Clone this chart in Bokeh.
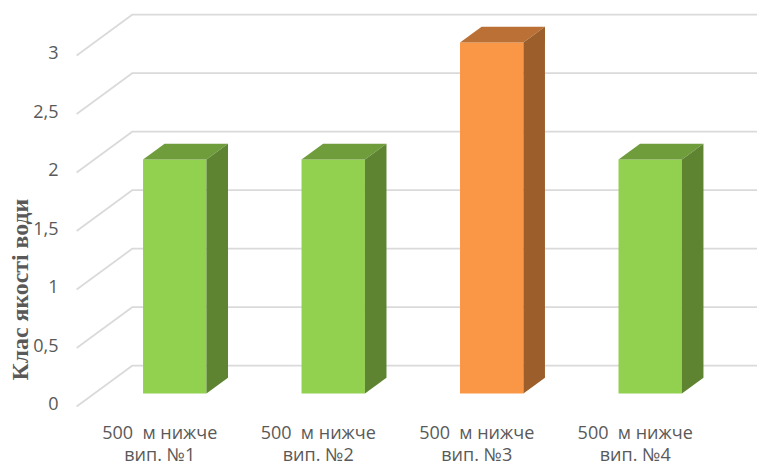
from bokeh.core.properties import value
from bokeh.embed import file_html
from bokeh.models import FixedTicker, LinearAxis, Range1d, Title
from bokeh.plotting import figure
from bokeh.resources import INLINE

line_one = ["500\u00a0\u00a0м нижче"] * 4
line_two = ["вип. №1", "вип. №2", "вип. №3", "вип. №4"]
quality = [2, 2, 3, 2]
y_ticks = [0, 0.5, 1, 1.5, 2, 2.5, 3]
y_tick_labels = ["0", "0,5", "1", "1,5", "2", "2,5", "3"]
y_title = "Клас якості води"

GREEN = ("#92D050", "#6F9D3C", "#5E8432")
ORANGE = ("#F99746", "#BB7135", "#9C5F2B")
bar_colors = [GREEN, GREEN, ORANGE, GREEN]
TEXT = "#595959"

FB = 467
X0, X1 = -0.683, 3.677
Y1 = 3.291
Y0 = -(FB - 393) / 117
HALF = 0.2
DX, DY = 0.136, 0.135
GRID_X0, GRID_X1 = -0.619, -0.2666
GRID_Y0, GRID_Y1 = -0.111, 0.239
LABEL_DX = -0.0946
ROW_Y = (-0.333, -0.521)

p = figure(width=757, height=467, output_backend="svg", toolbar_location=None,
           x_range=Range1d(X0, X1), y_range=Range1d(Y0, Y1),
           min_border_left=66, min_border_right=0, min_border_top=8, min_border_bottom=0,
           outline_line_color=None, background_fill_color="white", border_fill_color="white")
p.xaxis.visible = False
p.yaxis.visible = False
p.xgrid.visible = False
p.ygrid.visible = False

for t in y_ticks:
    p.line([GRID_X0, GRID_X1, X1], [t + GRID_Y0, t + GRID_Y1, t + GRID_Y1],
           line_color="#DADADA", line_width=1.8)

for i, (v, (front, top, side)) in enumerate(zip(quality, bar_colors)):
    l, r = i - HALF, i + HALF
    p.patch([l, r, r, l], [0, 0, v, v], fill_color=front, line_color=None)
    p.patch([l, r, r + DX, l + DX], [v, v, v + DY, v + DY], fill_color=top, line_color=None)
    p.patch([r, r + DX, r + DX, r], [0, DY, v + DY, v], fill_color=side, line_color=None)

p.extra_y_ranges["labels"] = Range1d(-(FB - 403) / 117, (403 - 8) / 117)
yax = LinearAxis(y_range_name="labels", ticker=FixedTicker(ticks=y_ticks),
                 major_label_overrides={t: s for t, s in zip(y_ticks, y_tick_labels)},
                 axis_line_color=None, major_tick_line_color=None, minor_tick_line_color=None,
                 major_tick_out=0, major_tick_in=0,
                 major_label_standoff=8, major_label_text_color=TEXT,
                 major_label_text_font="Open Sans", major_label_text_font_size="18px")
p.add_layout(yax, "left")

cats = list(range(len(line_one)))
for rows, row_y in zip((line_one, line_two), ROW_Y):
    p.text([c + LABEL_DX for c in cats], [row_y] * len(cats), text=rows,
           text_align="center", text_baseline="middle", text_color=TEXT,
           text_font=value("Open Sans"), text_font_size="18px")

p.add_layout(Title(text=y_title, align="left", offset=87, standoff=-4,
                   text_font="Liberation Serif", text_font_style="bold", text_font_size="23.8px",
                   text_color=TEXT), "left")

open("out.html", "w").write(file_html(p, INLINE))
